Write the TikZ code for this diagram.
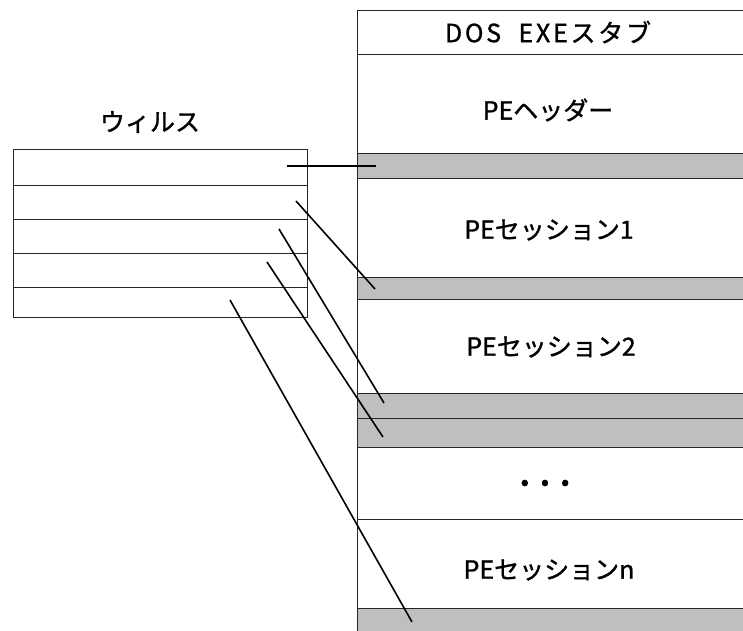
\documentclass[tikz,border=0pt]{standalone}
\usepackage{fontspec}
\setmainfont{Noto Sans CJK JP}[FakeBold=1.2]
\begin{document}
\begin{tikzpicture}[x=1pt,y=-1pt,
  seg/.style={draw=black!85, line width=1pt, rectangle, anchor=north west, inner sep=0pt, minimum width=400pt, fill=white},
  band/.style={seg, fill=black!25},
  row/.style={draw=black!85, line width=1pt, rectangle, anchor=north west, inner sep=0pt, minimum width=294pt, minimum height=34pt},
  lbl/.style={font=\fontsize{25}{29}\selectfont, inner sep=0pt},
  link/.style={draw=black, line width=1.6pt}]
\useasboundingbox (0,0) rectangle (743,630);
\clip (0,0) rectangle (743,630);
% right column
\node[seg, minimum height=44pt] (stub) at (357,10) {};
\node[seg, minimum height=99pt] (hdr) at (357,54) {};
\node[band, minimum height=25pt] (g0) at (357,153) {};
\node[seg, minimum height=99pt] (s1) at (357,178) {};
\node[band, minimum height=22pt] (g1) at (357,277) {};
\node[seg, minimum height=94pt] (s2) at (357,299) {};
\node[band, minimum height=25pt] (g2) at (357,393) {};
\node[band, minimum height=29pt] (g3) at (357,418) {};
\node[seg, minimum height=72pt] (dots) at (357,447) {};
\node[seg, minimum height=89pt] (sn) at (357,519) {};
\node[band, minimum height=30pt] (gn) at (357,608) {};
% labels
\node[lbl] (tstub) at (548,32) {\addfontfeature{LetterSpace=11}DOS\hspace{9pt} EXEスタブ};
\node[lbl] (thdr) at (548,110) {PEヘッダー};
\node[lbl] (ts1) at (549,230) {PEセッション1};
\node[lbl] (ts2) at (551,347) {PEセッション2};
\node[inner sep=0pt, font=\fontsize{44}{48}\selectfont] (tdots) at (545,483) {.\hspace{8pt}.\hspace{8pt}.};
\node[lbl] (tsn) at (549,570) {PEセッションn};
% virus block
\node[lbl] (tvirus) at (150,122) {ウィルス};
\node[row, minimum height=36pt] (v1) at (13,149) {};
\node[row] (v2) at (13,185) {};
\node[row] (v3) at (13,219) {};
\node[row] (v4) at (13,253) {};
\node[row, minimum height=30pt] (v5) at (13,287) {};
% link end points
\coordinate (a0) at (287,166);
\coordinate (b0) at (376,166);
\coordinate (a1) at (296,201);
\coordinate (b1) at (375,289);
\coordinate (a2) at (279,229);
\coordinate (b2) at (384,403);
\coordinate (a3) at (267,262);
\coordinate (b3) at (383,437);
\coordinate (a4) at (230,300);
\coordinate (b4) at (412,622);
\draw[link, line width=2.2pt] (a0) -- (b0);
\draw[link] (a1) -- (b1);
\draw[link] (a2) -- (b2);
\draw[link] (a3) -- (b3);
\draw[link] (a4) -- (b4);
\end{tikzpicture}
\end{document}
